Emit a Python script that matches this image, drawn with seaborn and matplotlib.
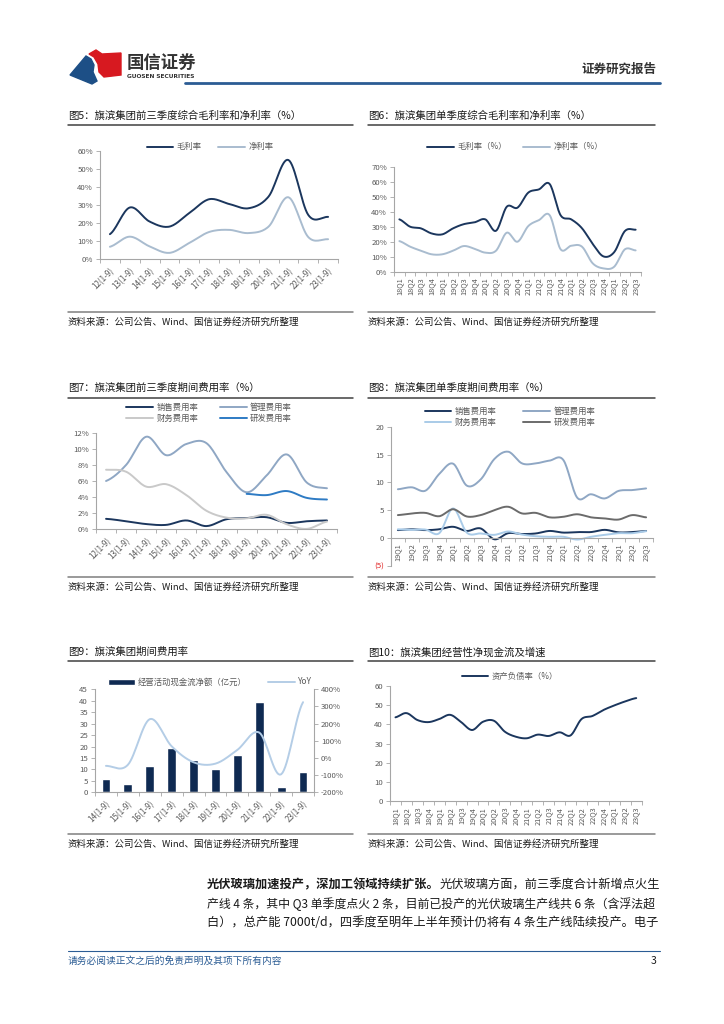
import numpy as np
import matplotlib
matplotlib.use('Agg')
import matplotlib.pyplot as plt
import seaborn as sns
from matplotlib.lines import Line2D
from matplotlib.patches import Polygon, Patch
from matplotlib.ticker import FixedLocator

sns.set_theme(style='white')
FONT = ['Noto Sans CJK SC', 'DejaVu Sans']
plt.rcParams['font.family'] = FONT
plt.rcParams['axes.unicode_minus'] = False

# ---- data ----
ytd_labels = ['12(1-9)', '13(1-9)', '14(1-9)', '15(1-9)', '16(1-9)', '17(1-9)',
              '18(1-9)', '19(1-9)', '20(1-9)', '21(1-9)', '22(1-9)', '23(1-9)']
gross_ytd = [13.8, 28.6, 20.8, 18.0, 25.5, 33.2, 30.6, 28.2, 34.7, 55.0, 24.5, 23.4]
net_ytd = [6.8, 12.4, 7.0, 3.4, 8.9, 15.0, 16.2, 14.4, 18.0, 34.3, 12.2, 11.0]

q_labels = ['18Q1', '18Q2', '18Q3', '18Q4', '19Q1', '19Q2', '19Q3', '19Q4',
            '20Q1', '20Q2', '20Q3', '20Q4', '21Q1', '21Q2', '21Q3', '21Q4',
            '22Q1', '22Q2', '22Q3', '22Q4', '23Q1', '23Q2', '23Q3']
gross_q = [34.9, 30.0, 28.9, 25.5, 24.9, 28.9, 31.7, 32.9, 34.9, 27.3, 43.3, 42.7,
           52.7, 54.9, 58.4, 37.8, 34.9, 29.0, 18.5, 10.2, 13.0, 27.1, 28.0]
net_q = [20.4, 16.7, 14.0, 11.6, 11.6, 14.0, 17.1, 15.3, 12.7, 14.0, 26.0, 20.0,
         30.4, 34.4, 37.6, 15.1, 17.3, 16.7, 5.6, 2.2, 3.3, 14.9, 14.2]

sell_ytd = [1.3, 1.0, 0.65, 0.55, 1.1, 0.4, 1.25, 1.4, 1.5, 0.8, 1.0, 1.1]
admin_ytd = [6.0, 8.0, 11.5, 9.2, 10.6, 10.7, 7.1, 4.6, 6.7, 9.3, 5.8, 5.1]
fin_ytd = [7.4, 7.15, 5.3, 5.6, 4.25, 2.3, 1.45, 1.36, 1.8, 0.62, 0.05, 0.95]
rd_ytd = [4.4, 4.25, 4.75, 3.9, 3.7]  # from 19(1-9)

q19_labels = q_labels[4:]
sell_q = [1.4, 1.55, 1.4, 1.55, 2.0, 1.25, 1.7, -0.25, 0.85, 0.7, 0.8, 1.25, 0.95,
          1.05, 1.05, 1.45, 1.0, 1.05, 1.25]
admin_q = [8.75, 9.1, 8.5, 11.5, 13.35, 9.4, 10.5, 14.2, 15.5, 13.4, 13.4, 13.9, 14.0,
           7.25, 7.85, 7.1, 8.45, 8.6, 8.9]
fin_q = [1.55, 1.45, 1.5, 0.85, 5.3, 0.95, 0.8, 0.55, 1.15, 0.6, 0.3, 0.2, 0.2,
         -0.3, 0.2, 0.55, 0.85, 0.85, 1.2]
rd_q = [4.1, 4.4, 4.5, 3.9, 5.15, 3.85, 4.1, 5.0, 5.6, 4.4, 4.5, 3.7, 3.8,
        4.25, 3.7, 3.5, 3.3, 4.1, 3.7]

cf_labels = ['14(1-9)', '15(1-9)', '16(1-9)', '17(1-9)', '18(1-9)',
             '19(1-9)', '20(1-9)', '21(1-9)', '22(1-9)', '23(1-9)']
cf_values = [5.8, 3.5, 11.5, 19.4, 14.0, 10.3, 16.4, 39.6, 2.2, 8.9]
cf_yoy = [-46, -40, 226, 68, -25, -33, 47, 148, -95, 325]

debt_ratio = [43.7, 45.9, 42.3, 41.2, 42.8, 45.0, 41.2, 37.1, 41.4, 41.9, 36.2, 33.6,
              32.8, 34.7, 34.0, 35.9, 34.3, 42.8, 44.4, 47.5, 49.9, 52.0, 53.7]

NAVY = '#1b365d'
LIGHT = '#a9bccf'
GREY = '#595959'
AXC = '#a6a6a6'
BLUE_LINE = '#2b5c94'

W, H = 724, 1024
fig = plt.figure(figsize=(W / 100, H / 100), dpi=100)


def fx(x):
    return x / W


def fy(y):
    return 1 - y / H


def hline(x0, x1, y, color, lw):
    fig.add_artist(Line2D([fx(x0), fx(x1)], [fy(y), fy(y)], color=color, lw=lw,
                          transform=fig.transFigure))


def add_ax(x0, y0, x1, y1):
    return fig.add_axes([fx(x0), fy(y1), (x1 - x0) / W, (y1 - y0) / H])


def smooth(y, n=16):
    # excel-like smoothed line (catmull-rom through the read values)
    y = np.asarray(y, float)
    p = np.concatenate([[y[0]], y, [y[-1]]])
    t = np.linspace(0, 1, n, endpoint=False)
    xs, ys = [], []
    for i in range(len(y) - 1):
        p0, p1, p2, p3 = p[i:i + 4]
        ys.append(0.5 * (2 * p1 + (p2 - p0) * t + (2 * p0 - 5 * p1 + 4 * p2 - p3) * t ** 2
                         + (3 * p1 - p0 - 3 * p2 + p3) * t ** 3))
        xs.append(i + t)
    xs.append([len(y) - 1])
    ys.append([y[-1]])
    return np.concatenate(xs), np.concatenate(ys)


def curve(ax, y, color, label, start=0, lw=1.4):
    xs, ys = smooth(y)
    sns.lineplot(x=xs + start, y=ys, ax=ax, color=color, lw=lw, label=label,
                 errorbar=None, sort=False)


def style(ax, labels, ylim, yticks, ylabels, rot):
    n = len(labels)
    ax.set_xlim(-0.5, n - 0.5)
    ax.set_ylim(*ylim)
    ax.set_yticks(yticks)
    ax.set_yticklabels(ylabels)
    ax.set_xticks(range(n))
    if rot == 45:
        ax.set_xticklabels(labels, rotation=45, ha='right', rotation_mode='anchor')
    else:
        ax.set_xticklabels(labels, rotation=90)
    ax.xaxis.set_minor_locator(FixedLocator(np.arange(-0.5, n, 1.0)))
    ax.tick_params(axis='x', which='major', length=0, labelsize=5.8 if rot == 45 else 5.3,
                   labelcolor=GREY, pad=5 if rot == 45 else 4, bottom=True)
    ax.tick_params(axis='x', which='minor', length=3, width=0.6, color=AXC,
                   direction='out', bottom=True)
    ax.tick_params(axis='y', which='major', length=3, width=0.6, color=AXC,
                   labelsize=5.6, labelcolor=GREY, pad=2, left=True)
    for s in ['top', 'right']:
        ax.spines[s].set_visible(False)
    for s in ['left', 'bottom']:
        ax.spines[s].set_color(AXC)
        ax.spines[s].set_linewidth(0.8)
    ax.set_facecolor('none')
    ax.set_xlabel('')
    ax.set_ylabel('')
    ax.grid(False)


def legend(ax, handles, labels, cx, cy, ncol, colsp=2.0):
    ax.legend(handles, labels, loc='center', bbox_to_anchor=(fx(cx), fy(cy)),
              bbox_transform=fig.transFigure, ncol=ncol, frameon=False, fontsize=6,
              handlelength=3.2, handletextpad=0.4, columnspacing=colsp,
              labelspacing=0.25, labelcolor=GREY)


def pct(vals):
    return ['%d%%' % v for v in vals]


# ---- header ----
fig.add_artist(Polygon([(fx(70), fy(75)), (fx(86), fy(56)), (fx(91), fy(59)),
                        (fx(94), fy(65)), (fx(93), fy(72)), (fx(97), fy(81)),
                        (fx(92), fy(84))],
                       closed=True, color='#1d4f86', transform=fig.transFigure))
fig.add_artist(Polygon([(fx(89), fy(54)), (fx(96), fy(50)), (fx(102), fy(54)),
                        (fx(121), fy(53)), (fx(121), fy(75)), (fx(104), fy(77)),
                        (fx(99), fy(72)), (fx(98), fy(64)), (fx(94), fy(57))],
                       closed=True, color='#d71920', transform=fig.transFigure))
fig.text(fx(127), fy(63), '国信证券', fontsize=12.5, fontweight='bold', color='#333333',
         va='center', ha='left')
fig.text(fx(127), fy(77), 'GUOSEN SECURITIES', fontsize=4.2, fontweight='bold',
         color='#333333', va='center', ha='left', family=['DejaVu Sans'])
fig.text(fx(656), fy(69), '证券研究报告', fontsize=9, fontweight='bold', color='#333333',
         va='center', ha='right')
hline(185, 660, 83, BLUE_LINE, 2.0)

# ---- section frames ----
titles = [(68, 116, '图5：旗滨集团前三季度综合毛利率和净利率（%）'),
          (368, 116, '图6：旗滨集团单季度综合毛利率和净利率（%）'),
          (68, 388, '图7：旗滨集团前三季度期间费用率（%）'),
          (368, 388, '图8：旗滨集团单季度期间费用率（%）'),
          (68, 652, '图9：旗滨集团期间费用率'),
          (368, 652, '图10：旗滨集团经营性净现金流及增速')]
for x, y, t in titles:
    fig.text(fx(x), fy(y), t, fontsize=7.5, color='#1a1a1a', va='center', ha='left')
for y in [125, 397.5, 661]:
    hline(68, 353, y, '#404040', 1.1)
    hline(368, 655, y, '#404040', 1.1)
src = '资料来源：公司公告、Wind、国信证券经济研究所整理'
for y_line, y_txt in [(312, 322), (577, 587), (834, 844)]:
    hline(68, 353, y_line, '#7f7f7f', 1.1)
    hline(368, 655, y_line, '#7f7f7f', 1.1)
    fig.text(fx(68), fy(y_txt), src, fontsize=6.8, color='#1a1a1a', va='center')
    fig.text(fx(368), fy(y_txt), src, fontsize=6.8, color='#1a1a1a', va='center')

# ---- chart 5 ----
ax5 = add_ax(100, 151, 338, 259)
curve(ax5, gross_ytd, NAVY, '毛利率')
curve(ax5, net_ytd, LIGHT, '净利率')
style(ax5, ytd_labels, (0, 60), range(0, 61, 10), pct(range(0, 61, 10)), 45)
h, l = ax5.get_legend_handles_labels()
legend(ax5, h, l, 210, 147, 2)

# ---- chart 6 ----
ax6 = add_ax(394, 166.7, 641, 271.7)
curve(ax6, gross_q, NAVY, '毛利率（%）')
curve(ax6, net_q, LIGHT, '净利率（%）')
style(ax6, q_labels, (0, 70), range(0, 71, 10), pct(range(0, 71, 10)), 90)
h, l = ax6.get_legend_handles_labels()
legend(ax6, h, l, 515, 147, 2)

# ---- chart 7 ----
ax7 = add_ax(96, 432.7, 337, 529.3)
curve(ax7, sell_ytd, NAVY, '销售费用率')
curve(ax7, admin_ytd, '#8fa7c4', '管理费用率')
curve(ax7, fin_ytd, '#c9c9c9', '财务费用率')
curve(ax7, rd_ytd, '#2e7bc4', '研发费用率', start=7)
style(ax7, ytd_labels, (0, 12), range(0, 13, 2), pct(range(0, 13, 2)), 45)
h, l = ax7.get_legend_handles_labels()
legend(ax7, [h[0], h[2], h[1], h[3]], [l[0], l[2], l[1], l[3]], 209, 413, 2, 2.6)

# ---- chart 8 ----
ax8 = add_ax(391, 426.7, 653, 565.7)
ax8.spines['bottom'].set_position(('data', 0))
curve(ax8, sell_q, NAVY, '销售费用率')
curve(ax8, admin_q, '#8fa7c4', '管理费用率')
curve(ax8, fin_q, '#a9cbe8', '财务费用率')
curve(ax8, rd_q, '#6b6b6b', '研发费用率')
style(ax8, q19_labels, (-5, 20), range(-5, 21, 5), ['(5)', '0', '5', '10', '15', '20'], 90)
ax8.get_yticklabels()[0].set_color('#e02020')
h, l = ax8.get_legend_handles_labels()
legend(ax8, [h[0], h[2], h[1], h[3]], [l[0], l[2], l[1], l[3]], 510, 417, 2, 3.2)

# ---- chart 9 ----
ax9 = add_ax(95, 689.3, 314, 792.3)
sns.barplot(x=cf_labels, y=cf_values, ax=ax9, color='#0f2a52', width=0.4,
            saturation=1)
style(ax9, cf_labels, (0, 45), range(0, 46, 5), [str(v) for v in range(0, 46, 5)], 45)
ax9b = ax9.twinx()
curve(ax9b, cf_yoy, '#b4cde6', 'YoY')
ax9b.set_ylim(-200, 400)
ax9b.set_yticks(range(-200, 401, 100))
ax9b.set_yticklabels(pct(range(-200, 401, 100)))
ax9b.tick_params(axis='y', length=3, width=0.6, color=AXC, labelsize=5.6,
                 labelcolor=GREY, pad=2, right=True)
for s in ['top', 'left', 'bottom']:
    ax9b.spines[s].set_visible(False)
ax9b.spines['right'].set_color(AXC)
ax9b.spines['right'].set_linewidth(0.8)
ax9b.set_ylabel('')
ax9b.grid(False)
hb, lb = ax9b.get_legend_handles_labels()
legend(ax9b, [Patch(facecolor='#0f2a52')] + hb, ['经营活动现金流净额（亿元）'] + lb, 210, 682, 2, 2.5)

# ---- chart 10 ----
ax10 = add_ax(390, 686, 641.7, 801.3)
curve(ax10, debt_ratio, NAVY, '资产负债率（%）')
style(ax10, q_labels, (0, 60), range(0, 61, 10), [str(v) for v in range(0, 61, 10)], 90)
h, l = ax10.get_legend_handles_labels()
legend(ax10, h, l, 510, 676, 1)

# ---- body text (each line fitted to the text column) ----
renderer = fig.canvas.get_renderer()
X0, X1, FS = 207, 659, 8.8
bold = fig.text(fx(X0), fy(885), '光伏玻璃加速投产，深加工领域持续扩张。', fontsize=FS,
                fontweight='bold', color='#1a1a1a', va='center')
bb = bold.get_window_extent(renderer)
fig.text(bb.x1 / W, fy(885), '光伏玻璃方面，前三季度合计新增点火生', fontsize=FS,
         color='#1a1a1a', va='center')
body = ['产线 4 条，其中 Q3 单季度点火 2 条，目前已投产的光伏玻璃生产线共 6 条（含浮法超',
        '白），总产能 7000t/d，四季度至明年上半年预计仍将有 4 条生产线陆续投产。电子']
for y, line in zip([904, 923], body):
    t = fig.text(fx(X0), fy(y), line, fontsize=FS, color='#1a1a1a', va='center')
    w = t.get_window_extent(renderer).width
    if w > X1 - X0:
        t.set_fontsize(FS * (X1 - X0) / w)

# ---- footer ----
hline(68, 660, 951, BLUE_LINE, 0.8)
fig.text(fx(68), fy(961), '请务必阅读正文之后的免责声明及其项下所有内容', fontsize=7,
         color=BLUE_LINE, style='italic', va='center')
fig.text(fx(656), fy(961), '3', fontsize=7.5, color='#1a1a1a', va='center', ha='right')

fig.savefig('out.png', dpi=100)
